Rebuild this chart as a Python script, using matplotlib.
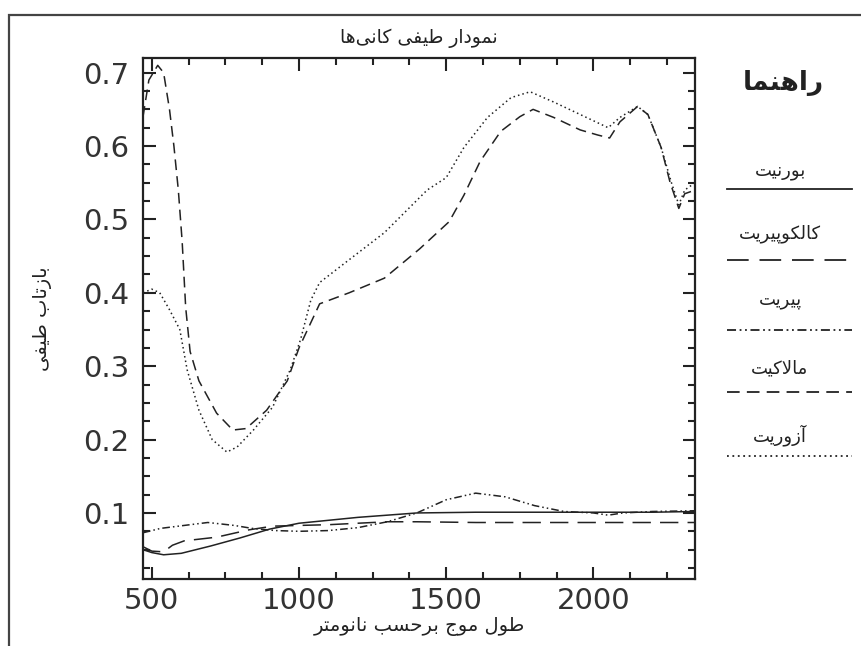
import matplotlib
matplotlib.use('Agg')
import matplotlib.pyplot as plt
from matplotlib.lines import Line2D
from matplotlib.patches import Rectangle

# --- data ------------------------------------------------------------------
bornite_nm = [470, 500, 540, 600, 700, 800, 900, 1000, 1100, 1200, 1300, 1400, 1600, 1800, 2000, 2200, 2345]
bornite_r = [0.050, 0.046, 0.043, 0.045, 0.055, 0.066, 0.078, 0.086, 0.090, 0.094, 0.097, 0.100, 0.101, 0.101, 0.101, 0.101, 0.102]

chalco_nm = [470, 500, 540, 570, 610, 720, 830, 910, 1000, 1100, 1200, 1300, 1400, 1600, 1800, 2000, 2200, 2345]
chalco_r = [0.054, 0.048, 0.047, 0.056, 0.062, 0.067, 0.077, 0.082, 0.083, 0.084, 0.086, 0.088, 0.088, 0.087, 0.087, 0.087, 0.087, 0.087]

pyrite_nm = [470, 530, 690, 780, 840, 920, 1000, 1100, 1200, 1300, 1400, 1500, 1600, 1700, 1800, 1900, 2000, 2050, 2100, 2200, 2345]
pyrite_r = [0.073, 0.079, 0.087, 0.083, 0.079, 0.076, 0.075, 0.076, 0.080, 0.088, 0.100, 0.118, 0.127, 0.122, 0.110, 0.102, 0.100, 0.097, 0.100, 0.102, 0.103]

malachite_nm = [470, 490, 520, 540, 560, 575, 590, 603, 615, 630, 660, 720, 775, 820, 890, 960, 1000, 1070, 1170, 1290, 1410,
                1510, 1560, 1615, 1685, 1750, 1795, 1865, 1955, 2015, 2055, 2090, 2150, 2185, 2230, 2260, 2290, 2310, 2345]
malachite_r = [0.640, 0.690, 0.710, 0.700, 0.650, 0.600, 0.540, 0.470, 0.380, 0.320, 0.280, 0.236, 0.213, 0.215, 0.240, 0.280, 0.325,
               0.385, 0.400, 0.420, 0.460, 0.497, 0.533, 0.579, 0.620, 0.640, 0.650, 0.639, 0.622, 0.615, 0.611, 0.633, 0.654,
               0.643, 0.598, 0.551, 0.515, 0.535, 0.540]

azurite_nm = [470, 500, 527, 560, 595, 620, 660, 705, 755, 790, 845, 910, 970, 1005, 1040, 1070, 1170, 1290, 1435, 1500,
              1560, 1640, 1720, 1785, 1865, 1955, 2050, 2090, 2150, 2185, 2230, 2265, 2290, 2310, 2345]
azurite_r = [0.400, 0.405, 0.400, 0.377, 0.350, 0.295, 0.240, 0.200, 0.183, 0.190, 0.213, 0.244, 0.295, 0.336, 0.390, 0.414,
             0.445, 0.482, 0.540, 0.557, 0.598, 0.639, 0.666, 0.674, 0.660, 0.643, 0.625, 0.639, 0.654, 0.643, 0.598, 0.550,
             0.520, 0.540, 0.550]

names = ['بورنیت', 'کالکوپیریت', 'پیریت', 'مالاکیت', 'آزوریت']
title_txt = 'نمودار طیفی کانی\u200cها'
xlabel_txt = 'طول موج برحسب نانومتر'
ylabel_txt = 'بازتاب طیفی'
legend_title = 'راهنما'

x_ticks = [500, 1000, 1500, 2000]
y_ticks = [0.1, 0.2, 0.3, 0.4, 0.5, 0.6, 0.7]


# --- minimal arabic/persian shaping (matplotlib has no text shaping) --------
# letter: (isolated, final, initial, medial); two entries -> right-joining only
FORMS = {
    'ا': ('\uFE8D', '\uFE8E'), 'آ': ('\uFE81', '\uFE82'),
    'د': ('\uFEA9', '\uFEAA'), 'ر': ('\uFEAD', '\uFEAE'),
    'ز': ('\uFEAF', '\uFEB0'), 'و': ('\uFEED', '\uFEEE'),
    'ب': ('\uFE8F', '\uFE90', '\uFE91', '\uFE92'),
    'پ': ('\uFB56', '\uFB57', '\uFB58', '\uFB59'),
    'ت': ('\uFE95', '\uFE96', '\uFE97', '\uFE98'),
    'ج': ('\uFE9D', '\uFE9E', '\uFE9F', '\uFEA0'),
    'ح': ('\uFEA1', '\uFEA2', '\uFEA3', '\uFEA4'),
    'س': ('\uFEB1', '\uFEB2', '\uFEB3', '\uFEB4'),
    'ط': ('\uFEC1', '\uFEC2', '\uFEC3', '\uFEC4'),
    'ف': ('\uFED1', '\uFED2', '\uFED3', '\uFED4'),
    'ک': ('\uFB8E', '\uFB8F', '\uFB90', '\uFB91'),
    'ل': ('\uFEDD', '\uFEDE', '\uFEDF', '\uFEE0'),
    'م': ('\uFEE1', '\uFEE2', '\uFEE3', '\uFEE4'),
    'ن': ('\uFEE5', '\uFEE6', '\uFEE7', '\uFEE8'),
    'ه': ('\uFEE9', '\uFEEA', '\uFEEB', '\uFEEC'),
    'ی': ('\uFBFC', '\uFBFD', '\uFBFE', '\uFBFF'),
}


def shape(text):
    out = []
    i = 0
    n = len(text)
    while i < n:
        c = text[i]
        prev = text[i - 1] if i > 0 else ''
        joins_prev = prev in FORMS and len(FORMS[prev]) == 4
        if c == 'ل' and i + 1 < n and text[i + 1] == 'ا':
            out.append('\uFEFC' if joins_prev else '\uFEFB')
            i += 2
            continue
        if c not in FORMS:
            if c != '\u200c':
                out.append(c)
            i += 1
            continue
        f = FORMS[c]
        nxt = text[i + 1] if i + 1 < n else ''
        joins_next = len(f) == 4 and nxt in FORMS
        if joins_prev and joins_next:
            out.append(f[3])
        elif joins_next:
            out.append(f[2])
        elif joins_prev:
            out.append(f[1])
        else:
            out.append(f[0])
        i += 1
    return ''.join(reversed(out))


plt.rcParams['font.family'] = ['DejaVu Sans']
ink = '#222222'

styles = [
    dict(linestyle='-'),
    dict(linestyle=(0, (12, 6))),
    dict(linestyle=(0, (5, 2, 1, 2, 1, 2))),
    dict(linestyle=(0, (7, 4))),
    dict(linestyle=(0, (1, 2))),
]
series = [
    (bornite_nm, bornite_r),
    (chalco_nm, chalco_r),
    (pyrite_nm, pyrite_r),
    (malachite_nm, malachite_r),
    (azurite_nm, azurite_r),
]

fig = plt.figure(figsize=(8.61, 6.46), dpi=100)
ax = fig.add_axes([143 / 861, 1 - 579 / 646, 552 / 861, 521 / 646])

for (xs, ys), st in zip(series, styles):
    ax.plot(xs, ys, color=ink, linewidth=1.1, **st)

ax.set_xlim(470, 2345)
ax.set_ylim(0.01, 0.72)
ax.set_xticks(x_ticks)
ax.set_yticks(y_ticks)
ax.set_xticks([500 + 125 * k for k in range(15) if 500 + 125 * k <= 2345], minor=True)
ax.set_yticks([0.025 * k for k in range(1, 29)], minor=True)
ax.set_yticklabels([f'{v:.1f}' for v in y_ticks])
ax.tick_params(which='both', direction='in', top=True, right=True, colors=ink,
               labelsize=21, width=1.5)
ax.tick_params(which='both', labelcolor='#333333')
ax.tick_params(which='major', length=9)
ax.tick_params(which='minor', length=5)
ax.tick_params(axis='y', pad=10)
ax.tick_params(axis='x', pad=6)
for sp in ax.spines.values():
    sp.set_linewidth(1.6)
    sp.set_color(ink)

ax.set_title(shape(title_txt), fontsize=13.5, color=ink, pad=11)
ax.set_xlabel(shape(xlabel_txt), fontsize=14, color=ink, labelpad=1)
ax.set_ylabel(shape(ylabel_txt), fontsize=14, color=ink, labelpad=22)

# outer frame
fig.patches.append(Rectangle((9 / 861, -0.05), 1.0, 1 - 15 / 646 + 0.05,
                             transform=fig.transFigure, fill=False,
                             edgecolor='#444444', linewidth=1.6))

# hand-made legend on the right
fig.text(783 / 861, 1 - 83 / 646, shape(legend_title), fontsize=19,
         fontweight='bold', color=ink, ha='center', va='center')
text_y = [171, 234, 300, 368, 435]
line_y = [189, 260, 330, 392, 456]
for name, st, ty, ly in zip(names, styles, text_y, line_y):
    fig.text(780 / 861, 1 - ty / 646, shape(name), fontsize=13, color=ink,
             ha='center', va='center')
    fig.add_artist(Line2D([727 / 861, 852 / 861], [1 - ly / 646] * 2,
                          transform=fig.transFigure, color=ink,
                          linewidth=1.3, **st))

fig.savefig('out.png', dpi=100)
